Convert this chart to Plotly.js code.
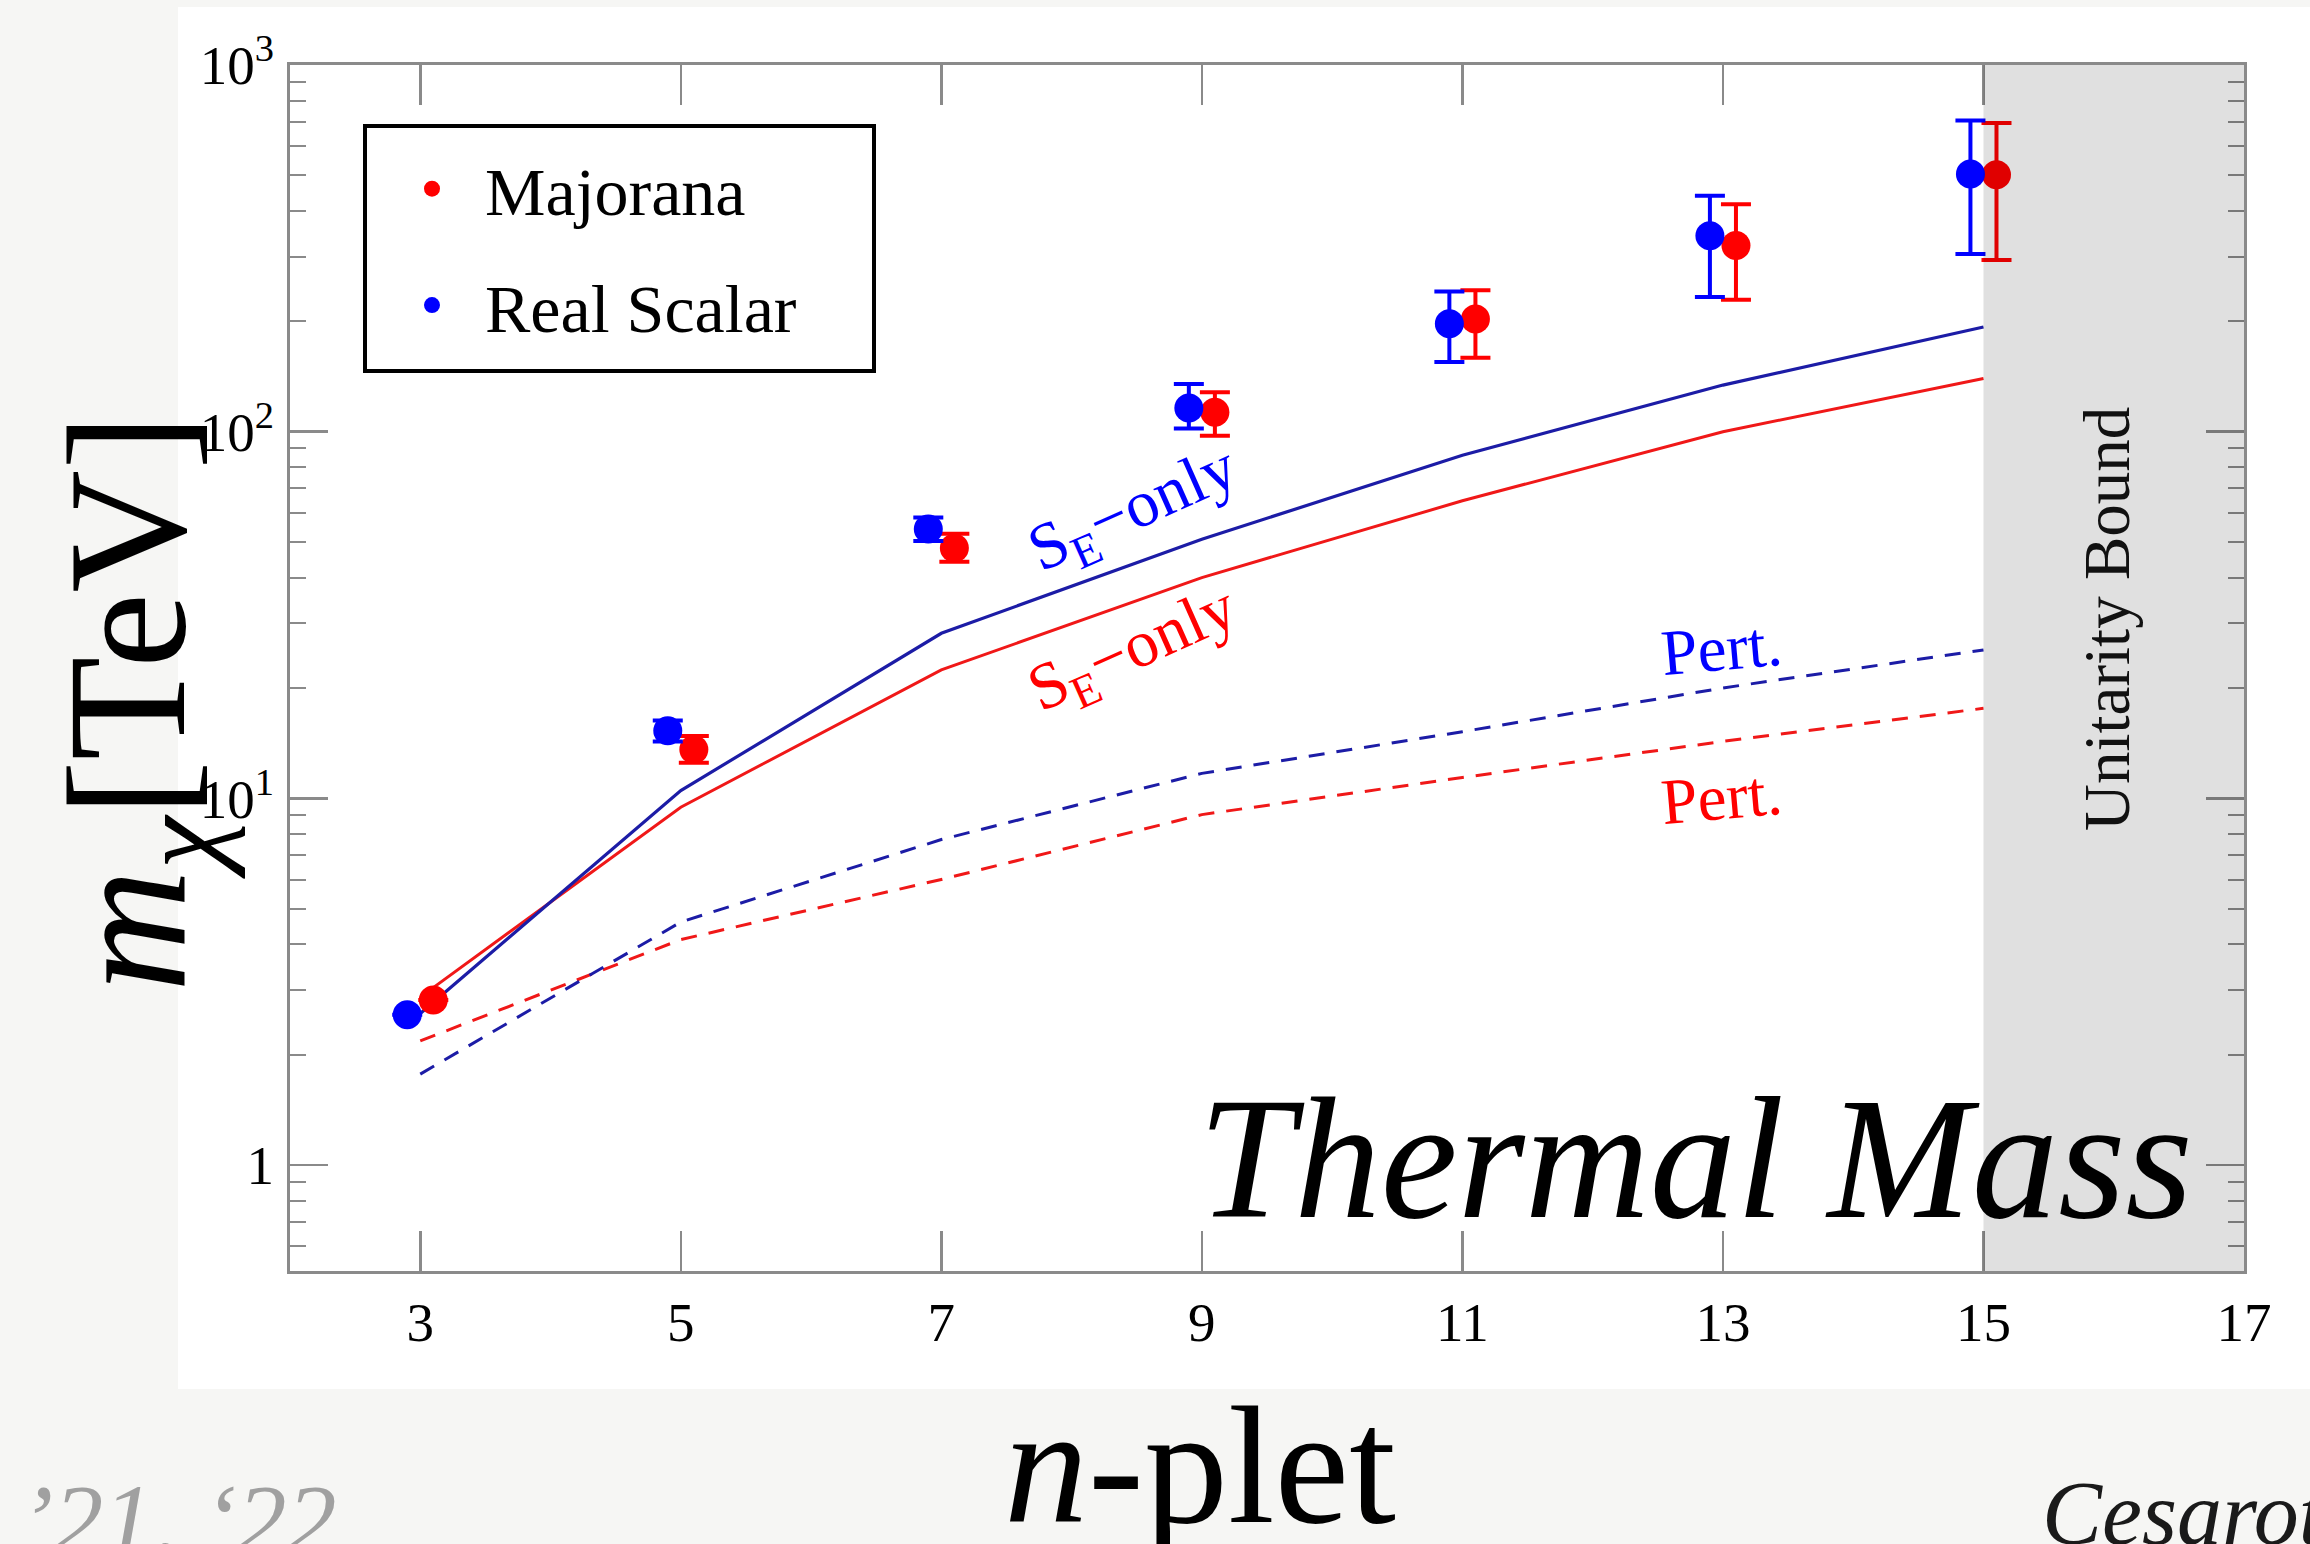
<!DOCTYPE html>
<html><head><meta charset="utf-8">
<script src="https://cdn.plot.ly/plotly-3.0.1.min.js"></script>
<style>html,body{margin:0;padding:0;background:#f6f6f4;} #chart{width:2310px;height:1544px;}</style>
</head><body><div id="chart"></div>
<script>
// ---- data ----
const nplet = [3, 5, 7, 9, 11, 13, 15];
const majorana = [2.82, 13.6, 48.2, 113, 203, 322, 502];
const majoranaErrPlus = [0, 1.2, 4.5, 15, 40, 95, 193];
const majoranaErrMinus = [0, 1.1, 4, 15.5, 44, 93, 208];
const realScalar = [2.57, 15.3, 54.3, 116, 197, 342, 504];
const realScalarErrPlus = [0, 1.0, 4, 19, 44, 98, 202];
const realScalarErrMinus = [0, 1.0, 4, 14, 42, 109, 199];
const seOnlyMajorana = [2.87, 9.46, 22.4, 40.0, 64.8, 100, 139.6];
const seOnlyScalar = [2.59, 10.5, 28.2, 50.9, 86.2, 134, 193];
const pertMajorana = [2.18, 4.12, 6.01, 9.03, 11.4, 14.3, 17.6];
const pertScalar = [1.77, 4.6, 7.72, 11.7, 15.2, 20.0, 25.4];
const xTickVals = [3, 5, 7, 9, 11, 13, 15, 17];
const yTickVals = [1, 10, 100, 1000];
const yTickText = ['1', '10<sup>1</sup>', '10<sup>2</sup>', '10<sup>3</sup>'];
const unitarityBound = [15, 17];

// ---- layout helpers (figure pixels -> paper) ----
const L = 290, R = 2244, T = 65, B = 1271;
const px = x => (x - L) / (R - L);
const py = y => (B - y) / (B - T);
const SERIF = 'Liberation Serif, Times New Roman, serif';
const RED = '#ff0000', BLUE = '#0000ff', LBLUE = '#1c1ca6', LRED = '#f01818';
const offset = 0.1;

const minorVals = [];
[0.1, 1, 10, 100].forEach(d => { for (let k = 2; k <= 9; k++) minorVals.push(d * k); });

const traces = [
  {x: nplet, y: pertMajorana, type: 'scatter', mode: 'lines', showlegend: false,
   line: {color: LRED, width: 3, dash: '16px,12px'}},
  {x: nplet, y: pertScalar, type: 'scatter', mode: 'lines', showlegend: false,
   line: {color: LBLUE, width: 3, dash: '16px,12px'}},
  {x: nplet, y: seOnlyMajorana, type: 'scatter', mode: 'lines', showlegend: false,
   line: {color: LRED, width: 3}},
  {x: nplet, y: seOnlyScalar, type: 'scatter', mode: 'lines', showlegend: false,
   line: {color: LBLUE, width: 3.2}},
  {x: nplet.map(v => v + offset), y: majorana, type: 'scatter', mode: 'markers', name: 'Majorana',
   legendgroup: 'maj',
   marker: {color: RED, size: 29},
   error_y: {type: 'data', symmetric: false, array: majoranaErrPlus, arrayminus: majoranaErrMinus,
             color: RED, thickness: 4, width: 15}},
  {x: nplet.map(v => v - offset), y: realScalar, type: 'scatter', mode: 'markers', name: 'Real Scalar',
   legendgroup: 'rs',
   marker: {color: BLUE, size: 29},
   error_y: {type: 'data', symmetric: false, array: realScalarErrPlus, arrayminus: realScalarErrMinus,
             color: BLUE, thickness: 4, width: 15}}
];

const axisCommon = {
  showline: true, linecolor: '#8a8a8a', linewidth: 3, mirror: 'ticks',
  ticks: 'inside', tickcolor: '#8a8a8a', tickwidth: 2.5,
  showgrid: false, zeroline: false,
  tickfont: {family: SERIF, size: 55, color: '#000'}
};

function ann(x, y, text, size, color, angle, extra) {
  return Object.assign({xref: 'paper', yref: 'paper', x: px(x), y: py(y), text: text, showarrow: false,
    xanchor: 'center', yanchor: 'middle', textangle: angle || 0,
    font: {family: SERIF, size: size, color: color}}, extra || {});
}

const layout = {
  width: 2310, height: 1544,
  margin: {l: L, r: 2310 - R, t: T, b: 1544 - B, pad: 0},
  paper_bgcolor: '#f6f6f4', plot_bgcolor: '#ffffff',
  showlegend: true,
  xaxis: Object.assign({}, axisCommon, {
    range: [2, 17], tickmode: 'array', tickvals: xTickVals, ticklen: 40,
    ticklabelstandoff: 1
  }),
  yaxis: Object.assign({}, axisCommon, {
    type: 'log', range: [-0.289, 3], tickmode: 'array', tickvals: yTickVals, ticktext: yTickText,
    ticklen: 38, ticklabelstandoff: 2,
    minor: {tickmode: 'array', tickvals: minorVals, ticks: 'inside', ticklen: 16,
            tickcolor: '#8a8a8a', tickwidth: 2}
  }),
  legend: {
    x: px(379), y: py(138), xanchor: 'left', yanchor: 'top',
    bgcolor: 'rgba(0,0,0,0)', borderwidth: 0,
    font: {family: SERIF, size: 68, color: '#000'},
    itemwidth: 96, tracegroupgap: 25, traceorder: 'grouped', itemsizing: 'trace'
  },
  shapes: [
    // white chart image area on the slide
    {type: 'rect', xref: 'paper', yref: 'paper', x0: px(178), x1: px(2330), y0: py(1389), y1: py(7),
     fillcolor: '#ffffff', line: {width: 0}, layer: 'below'},
    // unitarity bound region
    {type: 'rect', xref: 'x', yref: 'paper', x0: unitarityBound[0], x1: unitarityBound[1], y0: 0, y1: 1,
     fillcolor: 'rgba(0,0,0,0.12)', line: {width: 0}, layer: 'above'},
    // legend frame
    {type: 'rect', xref: 'paper', yref: 'paper', x0: px(365), x1: px(874), y0: py(371), y1: py(126),
     fillcolor: '#ffffff', line: {color: '#000', width: 4}, layer: 'above'}
  ],
  annotations: [
    ann(1134, 511, 'S<sub>E</sub>\u2212only', 66, BLUE, -24),
    ann(1134, 652, 'S<sub>E</sub>\u2212only', 66, RED, -24),
    ann(1721, 648, 'Pert.', 65, BLUE, -5),
    ann(1721, 797, 'Pert.', 65, RED, -5),
    ann(2107, 619, 'Unitarity Bound', 65, '#111', -90),
    ann(1695, 1158, '<i>Thermal Mass</i>', 173, '#000', 0),
    ann(140, 703, '<i>m</i><sub><i>\u03c7</i></sub>[TeV]', 170, '#000', -90),
    ann(1200, 1465, '<i>n</i>-plet', 168, '#000', 0),
    ann(339, 1462, '<i>\u201921, \u201822</i>', 100, '#a0a0a0', 0, {xanchor: 'right', yanchor: 'top'}),
    ann(2040, 1462, '<i>Cesarotti</i>', 90, '#1a1a1a', 0, {xanchor: 'left', yanchor: 'top'})
  ]
};

Plotly.newPlot('chart', traces, layout, {displayModeBar: false, staticPlot: true});
</script>
</body></html>
